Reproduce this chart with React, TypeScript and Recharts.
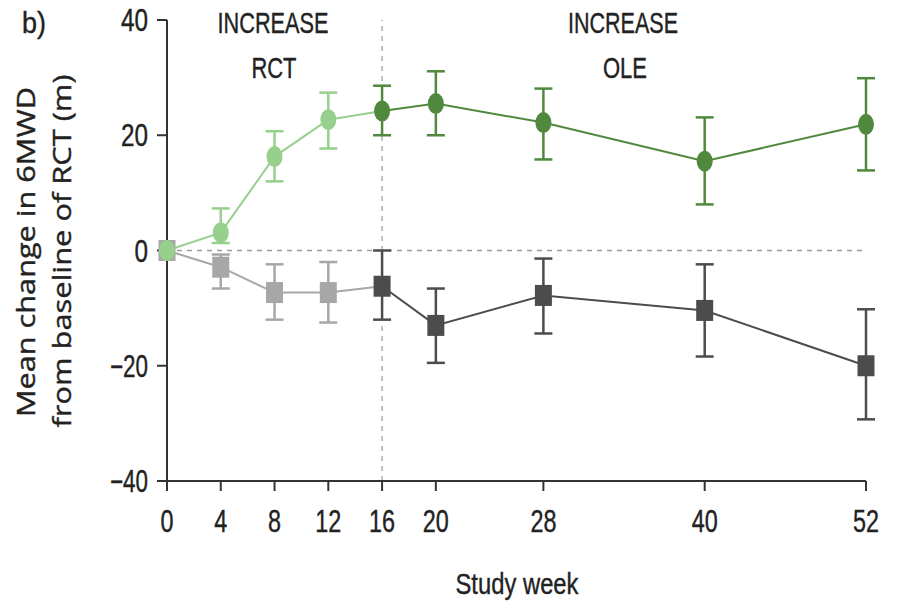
import React from 'react';
import { LineChart, Line, XAxis, YAxis, ErrorBar, ReferenceLine } from 'recharts';

// study weeks; RCT runs 0-16, OLE 16-52
const weeks = [0, 4, 8, 12, 16, 20, 28, 40, 52];
const xTicks = [0, 4, 8, 12, 16, 20, 28, 40, 52];
const yTicks = [-40, -20, 0, 20, 40];

// treatment arm (green circles)
const greenMean = [0, 3.1, 16.3, 22.7, 24.2, 25.5, 22.2, 15.5, 21.9];
const greenLow = [0, 1.3, 12.0, 17.7, 20.0, 20.0, 15.8, 8.0, 13.9];
const greenHigh = [0, 7.3, 20.7, 27.4, 28.6, 31.1, 28.1, 23.1, 29.9];

// placebo arm (gray squares)
const grayMean = [0, -2.9, -7.3, -7.3, -6.2, -13.0, -7.8, -10.4, -20.0];
const grayLow = [0, -6.6, -12.0, -12.5, -12.0, -19.5, -14.4, -18.4, -29.3];
const grayHigh = [0, -0.7, -2.4, -2.0, 0, -6.6, -1.4, -2.4, -10.2];

const SWITCH_WEEK = 16;

function buildRows(mean: number[], low: number[], high: number[], phase: 'rct' | 'ole') {
  return weeks
    .map((w, i) => {
      const inPhase = phase === 'rct' ? w <= SWITCH_WEEK : w >= SWITCH_WEEK;
      if (!inPhase) return null;
      const showErr = phase === 'rct' ? w > 0 && w < SWITCH_WEEK : true;
      return {
        week: w,
        value: mean[i],
        err: showErr ? [mean[i] - low[i], high[i] - mean[i]] : null,
      };
    })
    .filter(Boolean) as { week: number; value: number; err: number[] | null }[];
}

const greenRct = buildRows(greenMean, greenLow, greenHigh, 'rct');
const greenOle = buildRows(greenMean, greenLow, greenHigh, 'ole');
const grayRct = buildRows(grayMean, grayLow, grayHigh, 'rct');
const grayOle = buildRows(grayMean, grayLow, grayHigh, 'ole');

const LIGHT_GREEN = '#97cf8d';
const DARK_GREEN = '#50893d';
const LIGHT_GRAY = '#a7a7a7';
const DARK_GRAY = '#4b4c4e';
const AXIS = '#333';
const TEXT = '#222';
const FONT = '"Liberation Sans", Arial, sans-serif';

const circleDot = (color: string, hideSwitch: boolean) => (props: any) => {
  const { cx, cy, payload, index } = props;
  if (hideSwitch && payload.week === SWITCH_WEEK) return <g key={`c${index}`} />;
  return <ellipse key={`c${index}`} cx={cx} cy={cy} rx={8} ry={10.5} fill={color} />;
};

const squareDot = (color: string, hideSwitch: boolean) => (props: any) => {
  const { cx, cy, payload, index } = props;
  if (hideSwitch && payload.week === SWITCH_WEEK) return <g key={`s${index}`} />;
  return <rect key={`s${index}`} x={cx - 8.5} y={cy - 10.5} width={17} height={21} fill={color} />;
};

const XTick = (props: any) => {
  const { x, y, payload } = props;
  const label = String(payload.value);
  return (
    <text x={x} y={y + 41} textAnchor="middle" fontSize={31} fill={TEXT} fontFamily={FONT}
      stroke={TEXT} strokeWidth={0.4}
      textLength={label.length * 13} lengthAdjust="spacingAndGlyphs">
      {label}
    </text>
  );
};

const YTick = (props: any) => {
  const { x, y, payload } = props;
  const label = payload.value < 0 ? `\u2212${Math.abs(payload.value)}` : String(payload.value);
  const len = payload.value < 0 ? 38 : label.length * 13.5;
  return (
    <text x={x - 9} y={y + 11} textAnchor="end" fontSize={31} fill={TEXT} fontFamily={FONT}
      stroke={TEXT} strokeWidth={0.4}
      textLength={len} lengthAdjust="spacingAndGlyphs">
      {label}
    </text>
  );
};

export default function App() {
  return (
    <div style={{ position: 'absolute', left: 0, top: 0, width: 897, height: 604, background: '#fff' }}>
      <LineChart width={897} height={604} margin={{ top: 20, right: 31, bottom: 63, left: 90 }}>
        <XAxis
          dataKey="week"
          type="number"
          domain={[0, 52]}
          ticks={xTicks}
          interval={0}
          height={60}
          tickSize={10}
          tickMargin={0}
          stroke={AXIS}
          strokeWidth={2}
          tick={<XTick />}
          allowDuplicatedCategory={false}
        />
        <YAxis
          type="number"
          domain={[-40, 40]}
          ticks={yTicks}
          width={77}
          tickSize={10}
          tickMargin={0}
          stroke={AXIS}
          strokeWidth={2}
          tick={<YTick />}
        />
        <ReferenceLine y={0} stroke="#9a9a9a" strokeDasharray="5 5" strokeWidth={1.5} />
        <ReferenceLine x={SWITCH_WEEK} stroke="#b0b0b0" strokeDasharray="5 5" strokeWidth={1.5} />

        <Line data={grayRct} dataKey="value" stroke={LIGHT_GRAY} strokeWidth={2}
          dot={squareDot(LIGHT_GRAY, true)} activeDot={false} isAnimationActive={false}>
          <ErrorBar dataKey="err" width={9} stroke={LIGHT_GRAY} strokeWidth={2.5} />
        </Line>
        <Line data={grayOle} dataKey="value" stroke={DARK_GRAY} strokeWidth={2}
          dot={squareDot(DARK_GRAY, false)} activeDot={false} isAnimationActive={false}>
          <ErrorBar dataKey="err" width={9} stroke={DARK_GRAY} strokeWidth={2.5} />
        </Line>
        <Line data={greenRct} dataKey="value" stroke={LIGHT_GREEN} strokeWidth={2}
          dot={circleDot(LIGHT_GREEN, true)} activeDot={false} isAnimationActive={false}>
          <ErrorBar dataKey="err" width={9} stroke={LIGHT_GREEN} strokeWidth={2.5} />
        </Line>
        <Line data={greenOle} dataKey="value" stroke={DARK_GREEN} strokeWidth={2}
          dot={circleDot(DARK_GREEN, false)} activeDot={false} isAnimationActive={false}>
          <ErrorBar dataKey="err" width={9} stroke={DARK_GREEN} strokeWidth={2.5} />
        </Line>
      </LineChart>

      <svg width={897} height={604} style={{ position: 'absolute', left: 0, top: 0, pointerEvents: 'none' }}>
        <g fontFamily={FONT} fill={TEXT} stroke={TEXT} strokeWidth={0.4}>
          <text x={22} y={33} fontSize={30} textLength={24} lengthAdjust="spacingAndGlyphs">b)</text>
          <text x={273} y={33} fontSize={30} textAnchor="middle" textLength={111} lengthAdjust="spacingAndGlyphs">INCREASE</text>
          <text x={274} y={78} fontSize={30} textAnchor="middle" textLength={45} lengthAdjust="spacingAndGlyphs">RCT</text>
          <text x={623} y={33} fontSize={30} textAnchor="middle" textLength={110} lengthAdjust="spacingAndGlyphs">INCREASE</text>
          <text x={625} y={78} fontSize={30} textAnchor="middle" textLength={44} lengthAdjust="spacingAndGlyphs">OLE</text>
          <text x={517} y={594} fontSize={30} textAnchor="middle" textLength={123} lengthAdjust="spacingAndGlyphs">Study week</text>
          <text x={35} y={252} fontSize={26} textAnchor="middle" transform="rotate(-90 35 252)"
            fontFamily='"Open Sans", sans-serif' textLength={330} lengthAdjust="spacingAndGlyphs">
            Mean change in 6MWD
          </text>
          <text x={71} y={251} fontSize={26} textAnchor="middle" transform="rotate(-90 71 251)"
            fontFamily='"Open Sans", sans-serif' textLength={353} lengthAdjust="spacingAndGlyphs">
            from baseline of RCT (m)
          </text>
        </g>
      </svg>
    </div>
  );
}
